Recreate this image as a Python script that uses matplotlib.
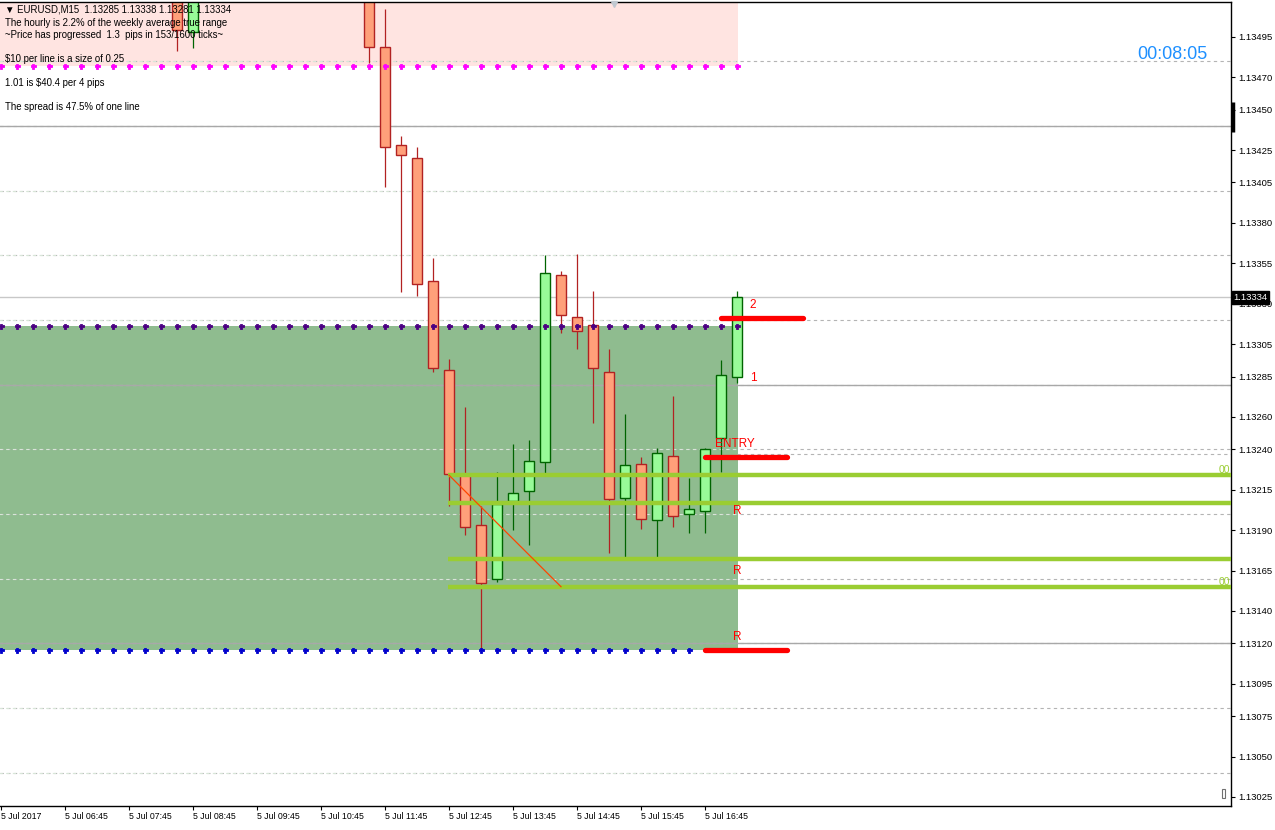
import matplotlib
matplotlib.use("Agg")
import matplotlib.pyplot as plt
from matplotlib.patches import Rectangle
import matplotlib.transforms as mtransforms

# ---------------- data ----------------
# bar index: 0 = 5 Jul 05:45, one bar = 15 minutes
candle_bar = [11, 12, 23, 24, 25, 26, 27, 28, 29, 30, 31, 32, 33, 34, 35, 36,
              37, 38, 39, 40, 41, 42, 43, 44, 45, 46]
opens  = [1.13530, 1.13498, 1.13540, 1.13489, 1.13428, 1.13420, 1.13344, 1.13289,
          1.13225, 1.13193, 1.13160, 1.13208, 1.13214, 1.13232, 1.13348, 1.13322,
          1.13317, 1.13288, 1.13210, 1.13231, 1.13196, 1.13236, 1.13200, 1.13202,
          1.13247, 1.13285]
highs  = [1.13540, 1.13535, 1.13550, 1.13512, 1.13434, 1.13427, 1.13358, 1.13296,
          1.13266, 1.13205, 1.13226, 1.13243, 1.13246, 1.13360, 1.13350, 1.13361,
          1.13338, 1.13302, 1.13262, 1.13235, 1.13241, 1.13273, 1.13222, 1.13241,
          1.13295, 1.13338]
lows   = [1.13486, 1.13488, 1.13479, 1.13402, 1.13337, 1.13335, 1.13288, 1.13205,
          1.13187, 1.13116, 1.13158, 1.13190, 1.13181, 1.13225, 1.13312, 1.13302,
          1.13256, 1.13176, 1.13173, 1.13191, 1.13173, 1.13192, 1.13188, 1.13188,
          1.13226, 1.13281]
closes = [1.13499, 1.13525, 1.13489, 1.13427, 1.13422, 1.13342, 1.13290, 1.13225,
          1.13192, 1.13157, 1.13206, 1.13213, 1.13233, 1.13349, 1.13323, 1.13313,
          1.13290, 1.13209, 1.13230, 1.13197, 1.13238, 1.13199, 1.13203, 1.13240,
          1.13286, 1.13334]

xtick_bars = [0, 4, 8, 12, 16, 20, 24, 28, 32, 36, 40, 44]
xtick_labels = ["5 Jul 2017", "5 Jul 06:45", "5 Jul 07:45", "5 Jul 08:45",
                "5 Jul 09:45", "5 Jul 10:45", "5 Jul 11:45", "5 Jul 12:45",
                "5 Jul 13:45", "5 Jul 14:45", "5 Jul 15:45", "5 Jul 16:45"]

ytick_values = [1.13495, 1.13470, 1.13450, 1.13425, 1.13405, 1.13380, 1.13355,
                1.13330, 1.13305, 1.13285, 1.13260, 1.13240, 1.13215, 1.13190,
                1.13165, 1.13140, 1.13120, 1.13095, 1.13075, 1.13050, 1.13025]

grid_levels = [1.13480, 1.13440, 1.13400, 1.13360, 1.13320, 1.13280, 1.13240,
               1.13200, 1.13160, 1.13120, 1.13080, 1.13040]
solid_levels = [1.13440, 1.13280, 1.13120]
bid_price = 1.13334

supply_zone = (1.13477, 1.13530)     # pink box (bottom, top)
demand_zone = (1.13116, 1.13316)     # green box (bottom, top)
zone_end_bar = 46
magenta_level = 1.13477
purple_level = 1.13316
blue_level = 1.13116
blue_end_bar = 43

fib_levels = [1.13224, 1.13207, 1.13172, 1.13155]
fib_start_bar = 28
diag_bars = [28, 35]
diag_prices = [1.13224, 1.13155]

target2 = (45, 50.1, 1.13321)
entry = (44, 49.1, 1.13235)
stop = (44, 49.1, 1.13116)

header_lines = ["\u25bc EURUSD,M15  1.13285 1.13338 1.13281 1.13334",
                "The hourly is 2.2% of the weekly average true range",
                "~Price has progressed  1.3  pips in 153/1600 ticks~",
                "",
                "$10 per line is a size of 0.25",
                "",
                "1.01 is $40.4 per 4 pips",
                "",
                "The spread is 47.5% of one line"]
clock_text = "00:08:05"

# ---------------- figure ----------------
W, H = 1275, 830
fig = plt.figure(figsize=(W / 100, H / 100), dpi=100)
ax_left, ax_right, ax_top, ax_bot = 0, 1231, 2, 806
ax = fig.add_axes([ax_left / W, (H - ax_bot) / H, (ax_right - ax_left) / W,
                   (ax_bot - ax_top) / H])
ylo, yhi = 1.130194, 1.135166
ax.set_xlim(-1 / 16, 1230 / 16)
ax.set_ylim(ylo, yhi)
FONT = ['Liberation Sans', 'DejaVu Sans']

# zones
ax.add_patch(Rectangle((-2, supply_zone[0]), zone_end_bar + 2.06,
                       supply_zone[1] - supply_zone[0], facecolor='#FFE4E1',
                       edgecolor='none', zorder=0))
ax.add_patch(Rectangle((-2, demand_zone[0]), zone_end_bar + 2.06,
                       demand_zone[1] - demand_zone[0], facecolor='#8FBC8F',
                       edgecolor='none', zorder=0))

# grid
for g in grid_levels:
    ax.axhline(g, color='#B4B4B4', lw=0.8, ls=(0, (3, 3)), zorder=1)
    ax.hlines(g, -1, zone_end_bar, color='#D8E6D8', lw=0.8, ls=(0, (3, 3)), zorder=1.05)
ax.hlines(1.13237, zone_end_bar, 80, color='#B4B4B4', lw=0.8, ls=(0, (3, 3)), zorder=1)
for s in solid_levels:
    ax.axhline(s, color='#A8A8A8', lw=1.0, zorder=1.2)
ax.axhline(bid_price, color='#C8C8C8', lw=1.0, zorder=1.2)

# candles
body_w = 0.66
for b, o, h, l, c in zip(candle_bar, opens, highs, lows, closes):
    bull = c >= o
    edge = '#006400' if bull else '#B22222'
    fill = '#98FB98' if bull else '#FFA07A'
    ax.vlines(b, l, h, color=edge, lw=0.9, zorder=2)
    ax.add_patch(Rectangle((b - body_w / 2, min(o, c)), body_w, abs(c - o),
                           facecolor=fill, edgecolor=edge, lw=1.0, zorder=2.5))

# fib lines
for f in fib_levels:
    ax.hlines(f, fib_start_bar - 0.05, 80, color='#9ACD32', lw=3.2, zorder=3)
ax.plot(diag_bars, diag_prices, color='#FF4500', lw=0.9, zorder=3.2)

# dotted level markers
dots_all = list(range(0, zone_end_bar + 1))
ax.plot(dots_all, [magenta_level] * len(dots_all), ls='none', marker='P', ms=3.6,
        color='#FF00FF', mec='#FF00FF', mew=0.6, zorder=4)
ax.plot(dots_all, [purple_level] * len(dots_all), ls='none', marker='P', ms=3.6,
        color='#4B0082', mec='#4B0082', mew=0.6, zorder=4)
dots_blue = list(range(0, blue_end_bar + 1))
ax.plot(dots_blue, [blue_level] * len(dots_blue), ls='none', marker='P', ms=3.6,
        color='#0000CD', mec='#0000CD', mew=0.6, zorder=4)

# trade levels
for x0, x1, p in (target2, entry, stop):
    ax.hlines(p, x0, x1, color='#FF0000', lw=3.8, zorder=5, capstyle='round')

rtxt = dict(color='#FF0000', fontsize=8.5, family=FONT, va='center', ha='left', zorder=6)
ax.text(46.8, 1.13329, "2", **rtxt)
ax.text(46.8, 1.13284, "1", **rtxt)
ax.text(44.65, 1.13243, "ENTRY", **rtxt)
for p in (1.13202, 1.13165, 1.13124):
    ax.text(45.75, p, "R", **rtxt)

blend = mtransforms.blended_transform_factory(ax.transAxes, ax.transData)
for p in (1.13227, 1.13158):
    ax.text(0.999, p, "00", transform=blend, color='#9ACD32', fontsize=7.5,
            family=FONT, ha='right', va='center', zorder=6)

# clock
ax.text(73.2, 1.13484, clock_text, color='#1E90FF', fontsize=13, family=FONT,
        ha='center', va='center', zorder=6)

# small triangle at top
ax.plot([38.3], [yhi - 0.000012], marker='v', ms=5, color='#C0C8D0', ls='none',
        zorder=6, clip_on=False)

# axes styling
ax.spines['left'].set_visible(False)
for sp in ('top', 'right', 'bottom'):
    ax.spines[sp].set_color('black')
    ax.spines[sp].set_linewidth(1.0)
ax.yaxis.tick_right()
ax.set_yticks(ytick_values)
ax.set_yticklabels([f"{v:.5f}" for v in ytick_values])
ax.tick_params(axis='y', direction='out', length=3, width=0.8, pad=2,
               labelsize=6.8, colors='black')
ax.set_xticks(xtick_bars)
ax.set_xticklabels(xtick_labels)
ax.tick_params(axis='x', direction='out', length=3, width=0.8, pad=1,
               labelsize=6.3, colors='black')
for lab in ax.get_xticklabels():
    lab.set_horizontalalignment('left')
    lab.set_family(FONT)
for lab in ax.get_yticklabels():
    lab.set_family(FONT)

# bid label box
ax.text(1.002, bid_price, f"{bid_price:.5f}", transform=blend, color='white',
        fontsize=6.8, family=FONT, ha='left', va='center', zorder=10,
        bbox=dict(boxstyle='square,pad=0.2', facecolor='black', edgecolor='black'),
        clip_on=False)

# ask marker bar on axis
ax.plot([1.0015, 1.0015], [1.13436, 1.13455], transform=blend, color='black', lw=2.5,
        clip_on=False, zorder=10, solid_capstyle='butt')

# bottom-right small icon
ax.add_patch(Rectangle((1222 / 1231, (806 - 798) / 804), 3 / 1231, 9 / 804,
                       transform=ax.transAxes, facecolor='none', edgecolor='#707070',
                       lw=0.8, zorder=6))

# header text
line_y = [10, 23, 35, 47, 59, 71, 83, 95, 107]
for t, yy in zip(header_lines, line_y):
    if t:
        fig.text(5 / W, 1 - yy / H, t, fontsize=6.9, family=FONT, color='black',
                 ha='left', va='center', zorder=20)

fig.savefig("out.png", dpi=100, facecolor='white')
